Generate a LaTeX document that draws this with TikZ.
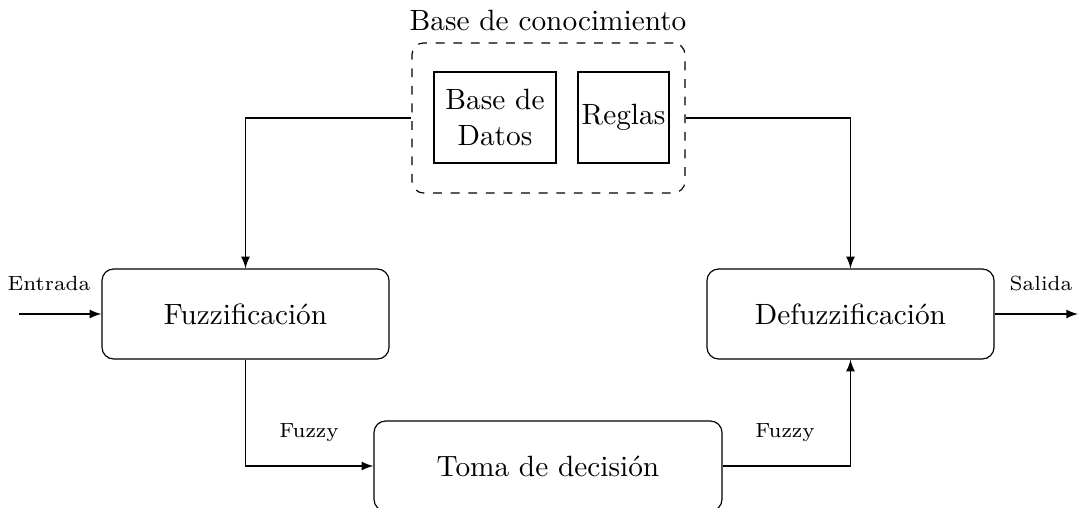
\documentclass[tikz,border=0pt]{standalone}
\usepackage{amsmath, amssymb}
\usepackage{tikz}
\usetikzlibrary{arrows}

\begin{document}
\begin{tikzpicture}[x=0.341pt,y=0.341pt,yscale=-1,xscale=1,
    bloque/.style={draw, rounded corners, minimum height=30.7pt, inner sep=0pt},
    caja/.style={draw, minimum height=31pt, inner sep=0pt, align=center},
    flecha/.style={-latex}]
    \useasboundingbox (0,0) rectangle (1082,508);

    %Shape: Dashed box [id:kb]
    \node [draw, dashed, rounded corners, minimum width=93.1pt, minimum height=51.2pt] (kb) at (548.5,118) {};
    % Text Node
    \node (kbtitle) at (548,20) {Base de conocimiento};
    %Shape: Rectangles
    \node [caja, minimum width=41.6pt] (datos) at (495,117.5) {Base de\\Datos};
    \node [caja, minimum width=31pt] (reglas) at (623.5,117.5) {Reglas};

    %Shape: Rounded blocks
    \node [bloque, minimum width=97.9pt] (fuzz) at (245.5,314) {Fuzzificación};
    \node [bloque, minimum width=97.9pt] (defuzz) at (850.5,314) {Defuzzificación};
    \node [bloque, minimum width=118.7pt] (toma) at (548,466) {Toma de decisión};

    \coordinate (in) at (19,314);
    \coordinate (out) at (1078,314);

    %Lines
    \draw [flecha] (kb.west) -| (fuzz.north);
    \draw [flecha] (kb.east) -| (defuzz.north);
    \draw [flecha] (fuzz.south) |- (toma.west);
    \draw [flecha] (toma.east) -| (defuzz.south);
    \draw [flecha] (in) -- (fuzz.west);
    \draw [flecha] (defuzz.east) -- (out);

    % Text Node
    \node [font=\scriptsize] (entrada) at (49,283) {Entrada};
    \node [font=\scriptsize] (salida) at (1041,283) {Salida};
    \node [font=\scriptsize] (fuzzy1) at (309,433) {Fuzzy};
    \node [font=\scriptsize] (fuzzy2) at (785,433) {Fuzzy};
\end{tikzpicture}
\end{document}
